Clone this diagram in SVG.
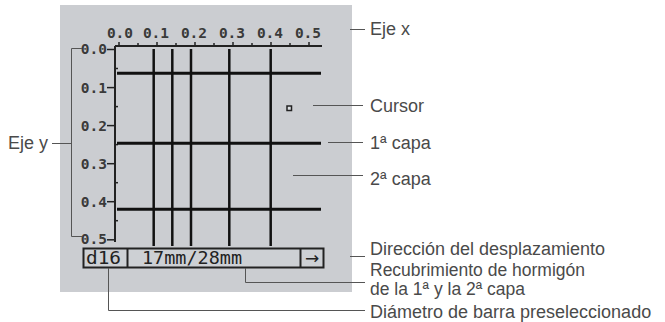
<svg xmlns="http://www.w3.org/2000/svg" width="665" height="322" viewBox="0 0 665 322">
<style>
.lbl{font-family:"Liberation Sans",Arial,sans-serif;font-size:18px;fill:#4a4a4a}
.lcd{font-family:"DejaVu Sans Mono","Liberation Mono",monospace;font-size:14.5px;font-weight:bold;fill:#3a3a3a}
.lcdb{font-family:"DejaVu Sans Mono","Liberation Mono",monospace;font-size:17px;fill:#222}
.lead{stroke:#555;stroke-width:1;fill:none}
.bar{stroke:#111;stroke-width:3;fill:none}
.vbar{stroke:#111;stroke-width:2.5;fill:none}
.axis{stroke:#222;stroke-width:2;fill:none}
.tick{stroke:#222;stroke-width:1.5;fill:none}
</style>
<rect width="665" height="322" fill="#ffffff"/>
<g id="panel">
<rect x="60" y="5" width="292" height="287" fill="#cbcdd1"/>
</g>
<g id="grid">
<line class="axis" x1="115" y1="46" x2="322" y2="46"/>
<line class="axis" x1="115" y1="46" x2="115" y2="242"/>
<g class="tick">
<line x1="119" y1="42" x2="119" y2="46"/><line x1="157" y1="42" x2="157" y2="46"/><line x1="195" y1="42" x2="195" y2="46"/><line x1="233" y1="42" x2="233" y2="46"/><line x1="271" y1="42" x2="271" y2="46"/><line x1="309" y1="42" x2="309" y2="46"/>
<line x1="138" y1="43" x2="138" y2="45"/><line x1="176" y1="43" x2="176" y2="45"/><line x1="214" y1="43" x2="214" y2="45"/><line x1="252" y1="43" x2="252" y2="45"/><line x1="290" y1="43" x2="290" y2="45"/>
<line x1="107" y1="49.5" x2="115" y2="49.5"/><line x1="107" y1="87.6" x2="115" y2="87.6"/><line x1="107" y1="125.6" x2="115" y2="125.6"/><line x1="107" y1="163.7" x2="115" y2="163.7"/><line x1="107" y1="201.7" x2="115" y2="201.7"/><line x1="107" y1="239.8" x2="115" y2="239.8"/>
<line x1="115" y1="68.5" x2="118" y2="68.5"/><line x1="115" y1="106.6" x2="118" y2="106.6"/><line x1="115" y1="144.6" x2="118" y2="144.6"/><line x1="115" y1="182.7" x2="118" y2="182.7"/><line x1="115" y1="220.7" x2="118" y2="220.7"/>
</g>
<g class="lcd" text-anchor="middle">
<text x="120" y="38">0.0</text><text x="156" y="38">0.1</text><text x="194" y="38">0.2</text><text x="232" y="38">0.3</text><text x="270" y="38">0.4</text><text x="308" y="38">0.5</text>
</g>
<g class="lcd" text-anchor="end">
<text x="107" y="54">0.0</text><text x="107" y="93">0.1</text><text x="107" y="131">0.2</text><text x="107" y="169">0.3</text><text x="107" y="207">0.4</text><text x="107" y="244">0.5</text>
</g>
</g>
<g id="bars">
<line class="vbar" x1="153.7" y1="49" x2="153.7" y2="246"/>
<line class="vbar" x1="172.3" y1="49" x2="172.3" y2="246"/>
<line class="vbar" x1="191" y1="49" x2="191" y2="246"/>
<line class="vbar" x1="229.3" y1="49" x2="229.3" y2="246"/>
<line class="vbar" x1="270.7" y1="49" x2="270.7" y2="246"/>
<line class="bar" x1="117" y1="73.3" x2="321" y2="73.3"/>
<line class="bar" x1="117" y1="143.3" x2="321" y2="143.3"/>
<line class="bar" x1="117" y1="209.3" x2="321" y2="209.3"/>
</g>
<g id="cursor">
<rect x="287" y="106" width="4.5" height="4.5" fill="#dde0e3" stroke="#222" stroke-width="1.5"/>
</g>
<g id="statusbar">
<rect x="83.5" y="248.5" width="240" height="19" fill="#cdd0d4" stroke="#222" stroke-width="2"/>
<line x1="127.5" y1="248.5" x2="127.5" y2="267.5" stroke="#222" stroke-width="2"/>
<line x1="300.5" y1="248.5" x2="300.5" y2="267.5" stroke="#222" stroke-width="2"/>
<text class="lcdb" x="86" y="264" textLength="35" lengthAdjust="spacingAndGlyphs">d16</text>
<text class="lcdb" x="142" y="264" textLength="100" lengthAdjust="spacingAndGlyphs">17mm/28mm</text>
<text x="312" y="264" text-anchor="middle" style="font-family:'DejaVu Sans',sans-serif;font-size:17px;fill:#222">→</text>
</g>
<g id="connectors">
<line class="lead" x1="350" y1="29.5" x2="365" y2="29.5"/>
<line class="lead" x1="313" y1="105.5" x2="363" y2="105.5"/>
<line class="lead" x1="328" y1="142.5" x2="363" y2="142.5"/>
<line class="lead" x1="293" y1="175.5" x2="363" y2="175.5"/>
<line class="lead" x1="350" y1="256.5" x2="365" y2="256.5"/>
<path class="lead" d="M245.5,268 V282.5 H365"/>
<path class="lead" d="M108.5,268 V310.5 H365"/>
<path class="lead" d="M82,48.5 H71.5 V236.5 H82"/>
<line class="lead" x1="52" y1="143.5" x2="71.5" y2="143.5"/>
</g>
<g id="label-ejex"><text class="lbl" x="370" y="35">Eje x</text></g>
<g id="label-cursor"><text class="lbl" x="370" y="112">Cursor</text></g>
<g id="label-capa1"><text class="lbl" x="370" y="149">1ª capa</text></g>
<g id="label-capa2"><text class="lbl" x="370" y="185">2ª capa</text></g>
<g id="label-ejey"><text class="lbl" x="8" y="149">Eje y</text></g>
<g id="label-direccion"><text class="lbl" x="370" y="255">Dirección del desplazamiento</text></g>
<g id="label-recubrimiento"><text class="lbl" x="370" y="275.5" style="font-size:17.5px">Recubrimiento de hormigón</text><text class="lbl" x="370" y="294.5" style="font-size:17.5px">de la 1ª y la 2ª capa</text></g>
<g id="label-diametro"><text class="lbl" x="370" y="318">Diámetro de barra preseleccionado</text></g>
</svg>
